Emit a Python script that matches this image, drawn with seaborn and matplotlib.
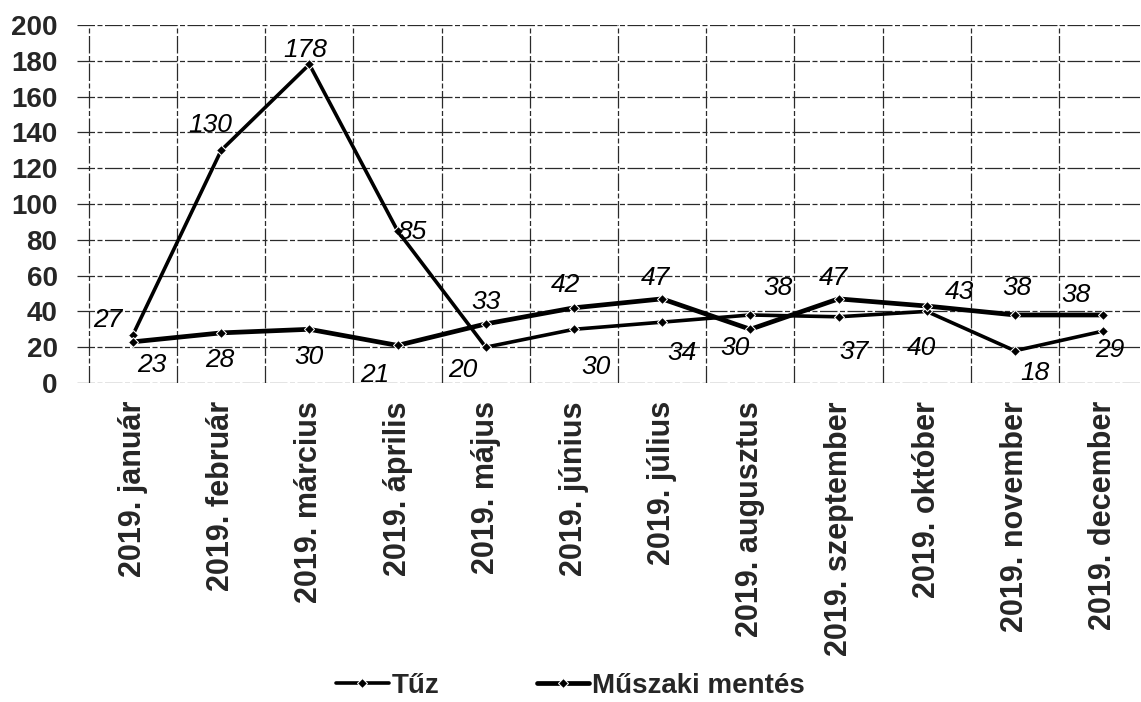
import matplotlib
matplotlib.use("Agg")
import matplotlib.pyplot as plt
import seaborn as sns
import pandas as pd
import numpy as np

# Adatok
honapok = ["2019. január", "2019. február", "2019. március", "2019. április",
           "2019. május", "2019. június", "2019. július", "2019. augusztus",
           "2019. szeptember", "2019. október", "2019. november", "2019. december"]
tuz = [27, 130, 178, 85, 20, 30, 34, 38, 37, 40, 18, 29]
muszaki = [23, 28, 30, 21, 33, 42, 47, 30, 47, 43, 38, 38]
y_ticks = [0, 20, 40, 60, 80, 100, 120, 140, 160, 180, 200]

# Címkék eltolása pixelben (dx, dy)
tuz_off = [(-25, 15), (-11, 25), (-4, 14), (14, -1), (-23, -23), (22, -38),
           (20, -31), (28, 27), (15, -35), (-5, -37), (20, -22), (7, -19)]
musz_off = [(19, -23), (-1, -27), (0, -28), (-23, -30), (0, 22), (-8, 23),
            (-7, 21), (-15, -19), (-5, 21), (33, 14), (2, 27), (-27, 20)]

sns.set_style("white")
plt.rcParams['font.family'] = ['Liberation Sans', 'DejaVu Sans']

df = pd.DataFrame({"honap": honapok, "Tűz": tuz, "Műszaki mentés": muszaki})

fig = plt.figure(figsize=(11.41, 7.02), dpi=100)
ax = fig.add_axes([77 / 1141, 1 - 383 / 702, 1 - 77 / 1141, (383 - 25) / 702])

sns.lineplot(data=df, x="honap", y="Tűz", ax=ax, color="black", linewidth=2.6,
             marker="D", markersize=5, label="Tűz", sort=False)
sns.lineplot(data=df, x="honap", y="Műszaki mentés", ax=ax, color="black", linewidth=3.4,
             marker="D", markersize=5, label="Műszaki mentés", sort=False)

ax.set_xlim(-0.635, 11.43)
ax.set_ylim(0, 200)
ax.set_yticks(y_ticks)
ax.set_xticks(range(len(honapok)))
ax.set_xticklabels(honapok, rotation=90, fontsize=22, fontweight="bold")
ax.set_yticklabels([str(v) for v in y_ticks], fontsize=20, fontweight="bold")
ax.tick_params(axis="x", length=0, pad=13)
ax.tick_params(axis="y", length=0, pad=14)
ax.set_xlabel("")
ax.set_ylabel("")

# rács (a szkennelt eredetin szaggatott)
racs = dict(color="#2a2a2a", linewidth=0.9, zorder=0, linestyle=(0, (14, 2, 4, 2)))
for v in y_ticks:
    ax.axhline(v, **racs)
for b in np.arange(-0.5, 11, 1.0):
    ax.axvline(b, **racs)
for s in ax.spines.values():
    s.set_visible(False)

# adatcímkék
for i, v in enumerate(tuz):
    dx, dy = tuz_off[i]
    ax.annotate(str(v), (i, v), xytext=(dx * 0.72, dy * 0.72), textcoords="offset points",
                ha="center", va="center", fontsize=19, fontstyle="italic", color="black")
for i, v in enumerate(muszaki):
    dx, dy = musz_off[i]
    ax.annotate(str(v), (i, v), xytext=(dx * 0.72, dy * 0.72), textcoords="offset points",
                ha="center", va="center", fontsize=19, fontstyle="italic", color="black")

ax.get_legend().remove()
handles, labels = ax.get_legend_handles_labels()
fig.legend(handles, labels, loc="center", bbox_to_anchor=(0.5, 1 - 686 / 702), ncol=2,
           frameon=False, handlelength=1.9, handletextpad=0.1, columnspacing=3.5,
           prop={"size": 20, "weight": "bold"})

fig.savefig("out.png", dpi=100)
